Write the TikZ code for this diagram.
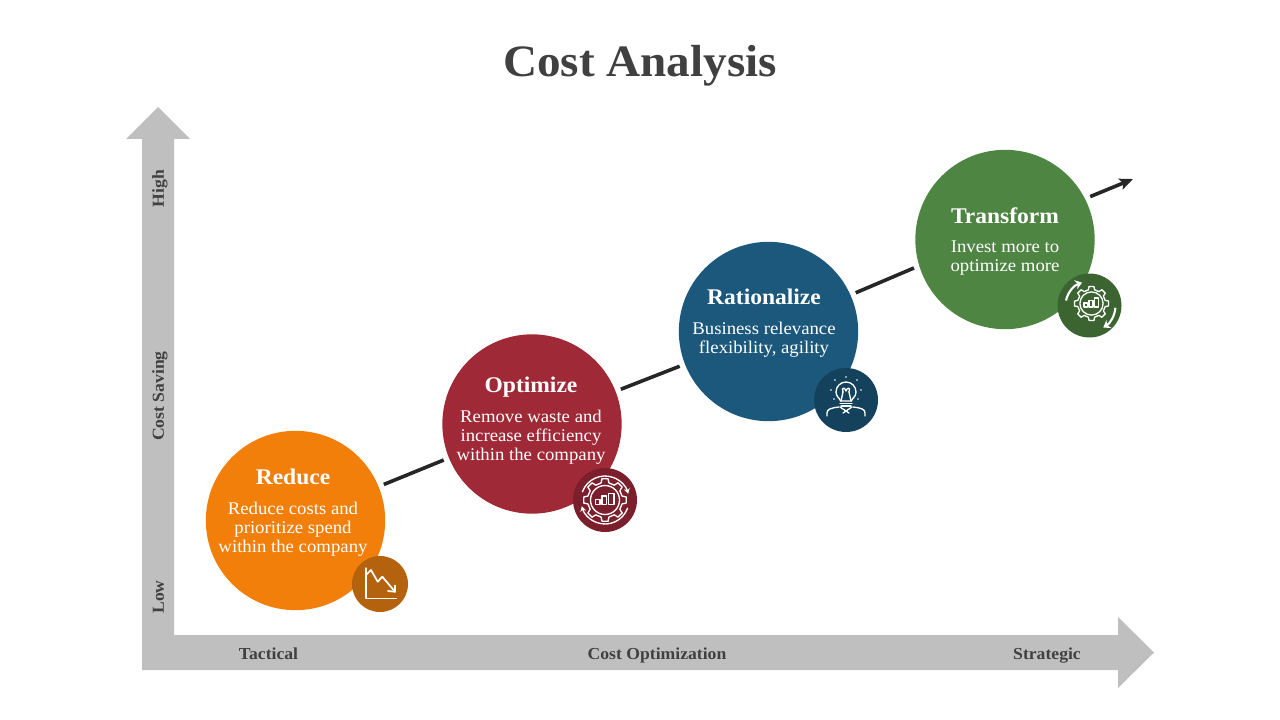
\documentclass[tikz,border=0pt]{standalone}
\usepackage{fontspec}
\setmainfont[FakeStretch=1.05]{Liberation Serif}
\usetikzlibrary{arrows.meta, positioning}

\definecolor{axisgray}{HTML}{BFBFBF}
\definecolor{inkgray}{HTML}{404040}
\definecolor{linkblack}{HTML}{262626}
\definecolor{reduceorange}{HTML}{F17F0A}
\definecolor{reducedark}{HTML}{B5620E}
\definecolor{optimizered}{HTML}{9F2936}
\definecolor{optimizedark}{HTML}{7C1F2C}
\definecolor{rationalblue}{HTML}{1B587C}
\definecolor{rationaldark}{HTML}{14425D}
\definecolor{transformgreen}{HTML}{4E8542}
\definecolor{transformdark}{HTML}{3B6431}

\tikzset{
  bubble/.style={circle, minimum size=134.5pt, inner sep=0pt, outer sep=0pt},
  badge/.style={circle, minimum size=48pt, inner sep=0pt, outer sep=0pt},
  headtext/.style={text=white, font=\fontsize{16.8}{19}\selectfont\bfseries, inner sep=0pt,
    text height=12pt, text depth=4pt},
  bodytext/.style={text=white, font=\fontsize{13.4}{14.25}\selectfont, align=center, inner sep=0pt},
  axistext/.style={text=inkgray, font=\fontsize{12.6}{14}\selectfont\bfseries, inner sep=0pt,
    text height=9pt, text depth=3pt},
  link/.style={draw=linkblack, line width=2.7pt, shorten >=4.3pt, shorten <=4.3pt},
  iconline/.style={draw=white, line width=1pt, line join=round, line cap=round},
  gearicon/.pic={
    \foreach \a in {0,45,...,315} {
      \draw[iconline] (\a-8:21.5) -- (\a+8:21.5) -- (\a+13:17.5) -- (\a+32:17.5) -- (\a+37:21.5);
    }
    \draw[iconline] (0,0) circle (14.5);
    \draw[iconline] (-9.3,-0.7) rectangle (-5,4.3);
    \draw[iconline] (-3,-4) rectangle (1.7,4.3);
    \draw[iconline] (3.7,-6.7) rectangle (9,4.3);
  },
}

\begin{document}
\begin{tikzpicture}[x=0.75pt, y=-0.75pt, >=Stealth]
  \useasboundingbox (0,0) rectangle (1280,720);

  \node[text=inkgray, font=\fontsize{33.7}{40}\selectfont\bfseries, anchor=base] (title) at (640,77) {Cost Analysis};

  % axes
  \fill[axisgray] (158,107) -- (190,139) -- (174,139) -- (174,635) -- (1118,635) -- (1118,617)
    -- (1154,652.5) -- (1118,688) -- (1118,670) -- (142,670) -- (142,139) -- (126,139) -- cycle;

  \node[axistext, rotate=90] (high) at (159.8,188.5) {High};
  \node[axistext, rotate=90] (saving) at (159.8,396) {Cost Saving};
  \node[axistext, rotate=90] (low) at (159.8,597) {Low};
  \node[axistext] (tactical) at (268.5,655.3) {Tactical};
  \node[axistext] (optim) at (657,655.3) {Cost Optimization};
  \node[axistext] (strategic) at (1047,655.3) {Strategic};

  \node[bubble, fill=reduceorange] (reduce) at (295.5,520.5) {};
  \node[bubble, fill=optimizered] (optimize) at (532,424) {};
  \node[bubble, fill=rationalblue] (rationalize) at (768.5,331.5) {};
  \node[bubble, fill=transformgreen] (transform) at (1005,239.5) {};
  \coordinate (tip) at (1133,179);

  \draw[link] (reduce) -- (optimize);
  \draw[link] (optimize) -- (rationalize);
  \draw[link] (rationalize.24.7) -- (transform.197.1);
  \draw[link, shorten >=0pt, -{Stealth[length=10pt, width=8.5pt, inset=2pt]}] (transform.27) -- (tip);

  \node[headtext] (reducehead) at (293,479) {Reduce};
  \node[bodytext, below=8.9pt of reducehead] (reducebody) {Reduce costs and\\prioritize spend\\within the company};
  \node[headtext] (optimizehead) at (531,387) {Optimize};
  \node[bodytext, below=8.9pt of optimizehead] (optimizebody) {Remove waste and\\increase efficiency\\within the company};
  \node[headtext] (rationalhead) at (764,299) {Rationalize};
  \node[bodytext, below=8.9pt of rationalhead] (rationalbody) {Business relevance\\flexibility, agility};
  \node[headtext] (transformhead) at (1005,218) {Transform};
  \node[bodytext, below=8.9pt of transformhead] (transformbody) {Invest more to\\optimize more};

  % badges
  \node[badge, minimum size=42pt, fill=reducedark] (reducebadge) at (380,584) {};
  \node[badge, fill=optimizedark] (optimizebadge) at (605,500) {};
  \node[badge, fill=rationaldark] (rationalbadge) at (846,400) {};
  \node[badge, fill=transformdark] (transformbadge) at (1089.5,305.5) {};

  % falling chart
  \begin{scope}[shift={(reducebadge.center)}]
    \draw[iconline] (-14,-16) -- (-14,14.5) -- (16.5,14.5);
    \draw[iconline, line width=1.3pt] (-14,-9) -- (-9,-14) -- (-2.3,-2.3) -- (2.3,-7.3) -- (15,7.7);
    \draw[iconline, line width=1.3pt] (8,7) -- (15,7.7) -- (15,1.5);
  \end{scope}

  % gear with thin ring
  \pic at (optimizebadge.center) {gearicon};
  \draw[iconline, -{Stealth[length=4pt, width=4.5pt]}] ([shift={(-160:24)}]optimizebadge.center) arc (-160:-15:24);
  \draw[iconline, -{Stealth[length=4pt, width=4.5pt]}] ([shift={(20:24)}]optimizebadge.center) arc (20:165:24);

  % gear with block arrows
  \pic[scale=0.8] at ([shift={(2,-2)}]transformbadge.center) {gearicon};
  \draw[draw=white, line width=1.6pt, -{Stealth[length=5pt, width=7pt]}] ([shift={(-168:24)}]transformbadge.center) arc (-168:-108:24);
  \draw[draw=white, line width=1.6pt, -{Stealth[length=5pt, width=7pt]}] ([shift={(5:26)}]transformbadge.center) arc (5:58:26);

  % bulb
  \begin{scope}[shift={(rationalbadge.center)}]
    \draw[iconline] (-5.5,1) .. controls (-6,-2) and (-10,-3) .. (-10,-8) arc (180:360:10) .. controls (10,-3) and (6,-2) .. (5.5,1) -- cycle;
    \draw[iconline] (-5,1) -- (-3,-8) (5,1) -- (3,-8);
    \draw[iconline] (-3,-8) .. controls (-5,-13) and (-1,-13) .. (0,-9) .. controls (1,-13) and (5,-13) .. (3,-8);
    \draw[iconline] (-6,3.5) -- (6,3.5);
    \draw[iconline] (-5,6) -- (5,6);
    \draw[iconline] (-6,7) -- (3,13) (6,7) -- (-3,13);
    \draw[iconline] (-19,16) -- (-19,13) .. controls (-19,9) and (-15,8) .. (-7,7);
    \draw[iconline] (19,16) -- (19,13) .. controls (19,9) and (15,8) .. (7,7);
    \foreach \px/\py in {0/-23, -11/-20, 11/-20, -15/-10, 15/-10, -12/-1, 12/-1} {
      \fill[white] (\px,\py) circle (0.9);
    }
  \end{scope}
\end{tikzpicture}
\end{document}
